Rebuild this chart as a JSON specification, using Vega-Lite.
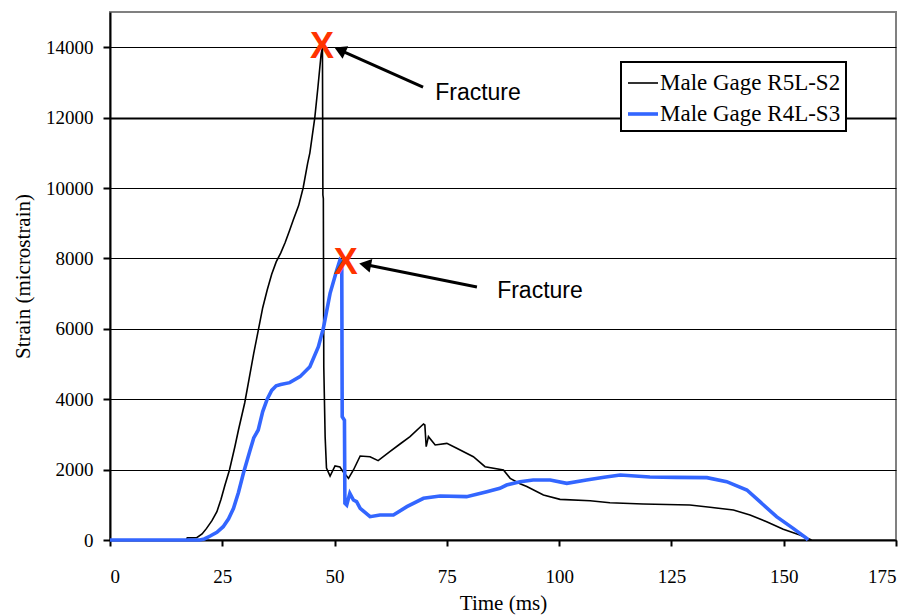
{
  "$schema": "https://vega.github.io/schema/vega-lite/v6.json",
  "width": 786,
  "height": 528,
  "autosize": {"type": "none"},
  "padding": {"left": 110, "top": 12, "right": 15, "bottom": 76},
  "background": "white",
  "config": {
    "view": {"stroke": "#808080", "strokeWidth": 2},
    "axis": {
      "domainColor": "black", "domainWidth": 2, "tickColor": "black", "tickWidth": 2,
      "labelFont": "Liberation Serif", "labelFontSize": 19, "labelColor": "black",
      "titleFont": "Liberation Serif", "titleFontSize": 21, "titleFontWeight": "normal", "titleColor": "black"
    },
    "legend": {
      "strokeColor": "black", "strokeWidth": 2, "fillColor": "white", "padding": 5,
      "labelFont": "Liberation Serif", "labelFontSize": 23, "labelColor": "black",
      "labelLimit": 400, "rowPadding": 2, "labelOffset": 0, "symbolType": "stroke", "symbolSize": 900
    }
  },
  "datasets": {
    "curves": [
      {"t": 0, "v": 0, "s": "Male Gage R5L-S2"},
      {"t": 17, "v": 0, "s": "Male Gage R5L-S2"},
      {"t": 17.2, "v": 60, "s": "Male Gage R5L-S2"},
      {"t": 19.3, "v": 65, "s": "Male Gage R5L-S2"},
      {"t": 20.5, "v": 170, "s": "Male Gage R5L-S2"},
      {"t": 21.5, "v": 330, "s": "Male Gage R5L-S2"},
      {"t": 22.7, "v": 550, "s": "Male Gage R5L-S2"},
      {"t": 23.8, "v": 805, "s": "Male Gage R5L-S2"},
      {"t": 24.7, "v": 1150, "s": "Male Gage R5L-S2"},
      {"t": 25.6, "v": 1560, "s": "Male Gage R5L-S2"},
      {"t": 26.6, "v": 1990, "s": "Male Gage R5L-S2"},
      {"t": 27.8, "v": 2650, "s": "Male Gage R5L-S2"},
      {"t": 28.6, "v": 3125, "s": "Male Gage R5L-S2"},
      {"t": 30, "v": 3900, "s": "Male Gage R5L-S2"},
      {"t": 31, "v": 4600, "s": "Male Gage R5L-S2"},
      {"t": 32, "v": 5300, "s": "Male Gage R5L-S2"},
      {"t": 33, "v": 5950, "s": "Male Gage R5L-S2"},
      {"t": 34, "v": 6600, "s": "Male Gage R5L-S2"},
      {"t": 35, "v": 7100, "s": "Male Gage R5L-S2"},
      {"t": 36, "v": 7550, "s": "Male Gage R5L-S2"},
      {"t": 37, "v": 7900, "s": "Male Gage R5L-S2"},
      {"t": 38, "v": 8150, "s": "Male Gage R5L-S2"},
      {"t": 39, "v": 8450, "s": "Male Gage R5L-S2"},
      {"t": 40, "v": 8800, "s": "Male Gage R5L-S2"},
      {"t": 40.8, "v": 9091, "s": "Male Gage R5L-S2"},
      {"t": 42, "v": 9500, "s": "Male Gage R5L-S2"},
      {"t": 43, "v": 10000, "s": "Male Gage R5L-S2"},
      {"t": 44, "v": 10700, "s": "Male Gage R5L-S2"},
      {"t": 44.5, "v": 11000, "s": "Male Gage R5L-S2"},
      {"t": 45, "v": 11450, "s": "Male Gage R5L-S2"},
      {"t": 45.6, "v": 12000, "s": "Male Gage R5L-S2"},
      {"t": 46.3, "v": 12870, "s": "Male Gage R5L-S2"},
      {"t": 47.0, "v": 13800, "s": "Male Gage R5L-S2"},
      {"t": 47.3, "v": 14000, "s": "Male Gage R5L-S2"},
      {"t": 47.4, "v": 9800, "s": "Male Gage R5L-S2"},
      {"t": 47.5, "v": 9700, "s": "Male Gage R5L-S2"},
      {"t": 47.6, "v": 4915, "s": "Male Gage R5L-S2"},
      {"t": 47.9, "v": 2930, "s": "Male Gage R5L-S2"},
      {"t": 48.2, "v": 2045, "s": "Male Gage R5L-S2"},
      {"t": 49.0, "v": 1818, "s": "Male Gage R5L-S2"},
      {"t": 50.1, "v": 2102, "s": "Male Gage R5L-S2"},
      {"t": 51.2, "v": 2074, "s": "Male Gage R5L-S2"},
      {"t": 51.9, "v": 1941, "s": "Male Gage R5L-S2"},
      {"t": 53.1, "v": 1752, "s": "Male Gage R5L-S2"},
      {"t": 54.2, "v": 1989, "s": "Male Gage R5L-S2"},
      {"t": 55.7, "v": 2386, "s": "Male Gage R5L-S2"},
      {"t": 57.9, "v": 2367, "s": "Male Gage R5L-S2"},
      {"t": 59.7, "v": 2254, "s": "Male Gage R5L-S2"},
      {"t": 62.3, "v": 2509, "s": "Male Gage R5L-S2"},
      {"t": 64.5, "v": 2720, "s": "Male Gage R5L-S2"},
      {"t": 66.8, "v": 2936, "s": "Male Gage R5L-S2"},
      {"t": 69.8, "v": 3295, "s": "Male Gage R5L-S2"},
      {"t": 70.1, "v": 3267, "s": "Male Gage R5L-S2"},
      {"t": 70.4, "v": 2651, "s": "Male Gage R5L-S2"},
      {"t": 70.9, "v": 2936, "s": "Male Gage R5L-S2"},
      {"t": 72.4, "v": 2699, "s": "Male Gage R5L-S2"},
      {"t": 75.0, "v": 2746, "s": "Male Gage R5L-S2"},
      {"t": 77.2, "v": 2605, "s": "Male Gage R5L-S2"},
      {"t": 80.9, "v": 2367, "s": "Male Gage R5L-S2"},
      {"t": 83.5, "v": 2083, "s": "Male Gage R5L-S2"},
      {"t": 87.6, "v": 1989, "s": "Male Gage R5L-S2"},
      {"t": 89.1, "v": 1752, "s": "Male Gage R5L-S2"},
      {"t": 91.3, "v": 1600, "s": "Male Gage R5L-S2"},
      {"t": 92.8, "v": 1520, "s": "Male Gage R5L-S2"},
      {"t": 96.5, "v": 1278, "s": "Male Gage R5L-S2"},
      {"t": 100.2, "v": 1155, "s": "Male Gage R5L-S2"},
      {"t": 106.9, "v": 1117, "s": "Male Gage R5L-S2"},
      {"t": 111.3, "v": 1060, "s": "Male Gage R5L-S2"},
      {"t": 118.7, "v": 1023, "s": "Male Gage R5L-S2"},
      {"t": 129.1, "v": 994, "s": "Male Gage R5L-S2"},
      {"t": 133.6, "v": 929, "s": "Male Gage R5L-S2"},
      {"t": 138.8, "v": 852, "s": "Male Gage R5L-S2"},
      {"t": 142.5, "v": 710, "s": "Male Gage R5L-S2"},
      {"t": 146.2, "v": 520, "s": "Male Gage R5L-S2"},
      {"t": 149.9, "v": 304, "s": "Male Gage R5L-S2"},
      {"t": 153.6, "v": 142, "s": "Male Gage R5L-S2"},
      {"t": 156.2, "v": 0, "s": "Male Gage R5L-S2"},
      {"t": 0, "v": 0, "s": "Male Gage R4L-S3"},
      {"t": 20, "v": 0, "s": "Male Gage R4L-S3"},
      {"t": 21, "v": 30, "s": "Male Gage R4L-S3"},
      {"t": 22.3, "v": 114, "s": "Male Gage R4L-S3"},
      {"t": 23.8, "v": 220, "s": "Male Gage R4L-S3"},
      {"t": 25.2, "v": 378, "s": "Male Gage R4L-S3"},
      {"t": 26.4, "v": 600, "s": "Male Gage R4L-S3"},
      {"t": 27.5, "v": 900, "s": "Male Gage R4L-S3"},
      {"t": 28.6, "v": 1350, "s": "Male Gage R4L-S3"},
      {"t": 29.7, "v": 1894, "s": "Male Gage R4L-S3"},
      {"t": 31.2, "v": 2557, "s": "Male Gage R4L-S3"},
      {"t": 32, "v": 2900, "s": "Male Gage R4L-S3"},
      {"t": 33, "v": 3125, "s": "Male Gage R4L-S3"},
      {"t": 34, "v": 3650, "s": "Male Gage R4L-S3"},
      {"t": 35, "v": 4000, "s": "Male Gage R4L-S3"},
      {"t": 36, "v": 4250, "s": "Male Gage R4L-S3"},
      {"t": 37, "v": 4380, "s": "Male Gage R4L-S3"},
      {"t": 38, "v": 4420, "s": "Male Gage R4L-S3"},
      {"t": 40, "v": 4470, "s": "Male Gage R4L-S3"},
      {"t": 42.3, "v": 4640, "s": "Male Gage R4L-S3"},
      {"t": 44.5, "v": 4924, "s": "Male Gage R4L-S3"},
      {"t": 46.4, "v": 5492, "s": "Male Gage R4L-S3"},
      {"t": 47.5, "v": 6014, "s": "Male Gage R4L-S3"},
      {"t": 49.0, "v": 7008, "s": "Male Gage R4L-S3"},
      {"t": 50.5, "v": 7670, "s": "Male Gage R4L-S3"},
      {"t": 51.2, "v": 7955, "s": "Male Gage R4L-S3"},
      {"t": 51.6, "v": 7900, "s": "Male Gage R4L-S3"},
      {"t": 51.7, "v": 3503, "s": "Male Gage R4L-S3"},
      {"t": 52.2, "v": 3400, "s": "Male Gage R4L-S3"},
      {"t": 52.3, "v": 1042, "s": "Male Gage R4L-S3"},
      {"t": 52.7, "v": 994, "s": "Male Gage R4L-S3"},
      {"t": 53.4, "v": 1326, "s": "Male Gage R4L-S3"},
      {"t": 54.2, "v": 1136, "s": "Male Gage R4L-S3"},
      {"t": 54.9, "v": 1088, "s": "Male Gage R4L-S3"},
      {"t": 55.7, "v": 900, "s": "Male Gage R4L-S3"},
      {"t": 57.9, "v": 663, "s": "Male Gage R4L-S3"},
      {"t": 60.1, "v": 710, "s": "Male Gage R4L-S3"},
      {"t": 63.1, "v": 710, "s": "Male Gage R4L-S3"},
      {"t": 66.1, "v": 947, "s": "Male Gage R4L-S3"},
      {"t": 69.8, "v": 1184, "s": "Male Gage R4L-S3"},
      {"t": 73.5, "v": 1250, "s": "Male Gage R4L-S3"},
      {"t": 79.4, "v": 1231, "s": "Male Gage R4L-S3"},
      {"t": 83.9, "v": 1373, "s": "Male Gage R4L-S3"},
      {"t": 86.8, "v": 1468, "s": "Male Gage R4L-S3"},
      {"t": 88.3, "v": 1562, "s": "Male Gage R4L-S3"},
      {"t": 91.3, "v": 1657, "s": "Male Gage R4L-S3"},
      {"t": 94.2, "v": 1705, "s": "Male Gage R4L-S3"},
      {"t": 98.0, "v": 1705, "s": "Male Gage R4L-S3"},
      {"t": 101.7, "v": 1610, "s": "Male Gage R4L-S3"},
      {"t": 106.1, "v": 1705, "s": "Male Gage R4L-S3"},
      {"t": 110.0, "v": 1780, "s": "Male Gage R4L-S3"},
      {"t": 113.6, "v": 1847, "s": "Male Gage R4L-S3"},
      {"t": 120.2, "v": 1790, "s": "Male Gage R4L-S3"},
      {"t": 126.0, "v": 1780, "s": "Male Gage R4L-S3"},
      {"t": 132.9, "v": 1771, "s": "Male Gage R4L-S3"},
      {"t": 137.3, "v": 1657, "s": "Male Gage R4L-S3"},
      {"t": 141.8, "v": 1420, "s": "Male Gage R4L-S3"},
      {"t": 144.7, "v": 1088, "s": "Male Gage R4L-S3"},
      {"t": 148.4, "v": 663, "s": "Male Gage R4L-S3"},
      {"t": 152.1, "v": 331, "s": "Male Gage R4L-S3"},
      {"t": 155.1, "v": 47, "s": "Male Gage R4L-S3"},
      {"t": 155.4, "v": 0, "s": "Male Gage R4L-S3"}
    ],
    "marks": [
      {"t": 47.2, "v": 14060},
      {"t": 52.5, "v": 7926}
    ],
    "arrows": [
      {"t": 69.7, "v": 12869, "t2": 51.2, "v2": 13920, "ang": 294},
      {"t": 81.7, "v": 7188, "t2": 56.8, "v2": 7825, "ang": 281}
    ],
    "labels": [
      {"t": 72.4, "v": 12500, "txt": "Fracture"},
      {"t": 86.2, "v": 6875, "txt": "Fracture"}
    ]
  },
  "layer": [
    {
      "data": {"name": "curves"},
      "mark": {"type": "line", "strokeJoin": "miter"},
      "encoding": {
        "x": {"field": "t", "type": "quantitative", "scale": {"domain": [0, 175], "nice": false},
          "axis": {"title": "Time (ms)", "values": [0, 25, 50, 75, 100, 125, 150, 175], "grid": false,
            "tickSize": 6, "labelPadding": 21, "titlePadding": 6}},
        "y": {"field": "v", "type": "quantitative", "scale": {"domain": [0, 15000], "nice": false},
          "axis": {"title": "Strain (microstrain)", "values": [0, 2000, 4000, 6000, 8000, 10000, 12000, 14000],
            "format": "d", "grid": true, "gridColor": "black", "gridOpacity": 1,
            "gridWidth": {"condition": {"test": "datum.value === 12000", "value": 2}, "value": 1},
            "tickSize": 7, "labelPadding": 10, "titlePadding": 12}},
        "color": {"field": "s", "type": "nominal",
          "scale": {"domain": ["Male Gage R5L-S2", "Male Gage R4L-S3"], "range": ["black", "#3366ff"]},
          "legend": {"title": null, "orient": "none", "legendX": 511, "legendY": 50}},
        "strokeWidth": {"field": "s", "type": "nominal",
          "scale": {"domain": ["Male Gage R5L-S2", "Male Gage R4L-S3"], "range": [1.6, 3.6]},
          "legend": {"title": null, "orient": "none", "legendX": 511, "legendY": 50}}
      }
    },
    {
      "data": {"name": "arrows"},
      "mark": {"type": "rule", "color": "black", "strokeWidth": 3},
      "encoding": {
        "x": {"field": "t", "type": "quantitative"},
        "y": {"field": "v", "type": "quantitative"},
        "x2": {"field": "t2"},
        "y2": {"field": "v2"}
      }
    },
    {
      "data": {"name": "arrows"},
      "mark": {"type": "point", "shape": "triangle-up", "filled": true, "color": "black", "size": 190, "opacity": 1},
      "encoding": {
        "x": {"field": "t2", "type": "quantitative"},
        "y": {"field": "v2", "type": "quantitative"},
        "angle": {"field": "ang", "type": "quantitative", "scale": null}
      }
    },
    {
      "data": {"name": "marks"},
      "mark": {"type": "text", "text": "X", "font": "Liberation Sans", "fontWeight": "bold", "fontSize": 36, "color": "#ff3300", "baseline": "middle", "align": "center", "dy": 2},
      "encoding": {
        "x": {"field": "t", "type": "quantitative"},
        "y": {"field": "v", "type": "quantitative"}
      }
    },
    {
      "data": {"name": "labels"},
      "mark": {"type": "text", "font": "Liberation Sans", "fontSize": 23, "color": "black", "baseline": "alphabetic", "align": "left"},
      "encoding": {
        "x": {"field": "t", "type": "quantitative"},
        "y": {"field": "v", "type": "quantitative"},
        "text": {"field": "txt"}
      }
    }
  ]
}
